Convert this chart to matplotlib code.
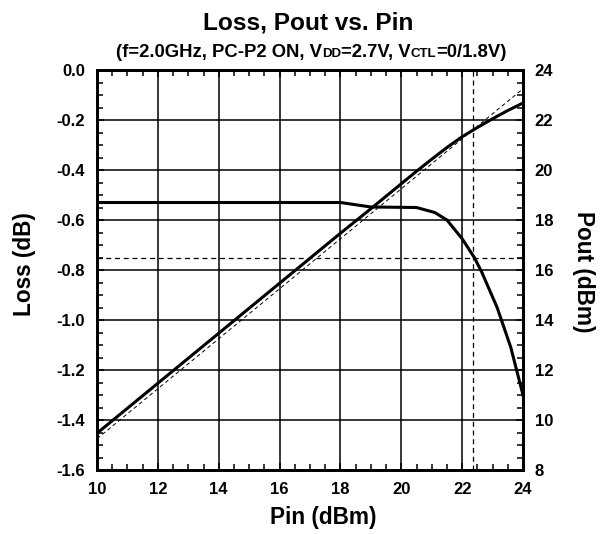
import matplotlib
matplotlib.use("Agg")
import matplotlib.pyplot as plt
from matplotlib.ticker import MultipleLocator, FormatStrFormatter

plt.rcParams['font.family'] = ['Liberation Sans', 'DejaVu Sans']
plt.rcParams['font.weight'] = 'bold'
plt.rcParams['axes.unicode_minus'] = False

# Loss (left axis)
pin_loss = [10, 18.0, 19.0, 20.5, 21.1, 21.5, 22.0, 22.4, 22.65, 23.15, 23.6, 24.0]
loss_db = [-0.53, -0.53, -0.548, -0.55, -0.57, -0.60, -0.675, -0.75, -0.81, -0.95, -1.11, -1.30]

# Pout (right axis)
pin_pout = [10, 12, 14, 16, 18, 19, 20, 20.5, 21, 21.5, 22, 22.5, 23, 23.5, 24]
pout_dbm = [9.47, 11.47, 13.47, 15.47, 17.47, 18.45, 19.45, 19.95, 20.43, 20.9, 21.33, 21.7, 22.05, 22.38, 22.68]

# ideal (thin dashed) Pout line
pin_ideal = [10, 24]
pout_ideal = [9.25, 23.25]

# compression markers
pin_comp = 22.37
loss_comp = -0.75

fig = plt.figure(figsize=(6.06, 5.34), dpi=100)
ax = fig.add_axes([97/606, 1-470/534, 426/606, 400/534])
ax2 = ax.twinx()

ax.plot(pin_loss, loss_db, color='black', lw=2.2, solid_joinstyle='round')
ax.axhline(loss_comp, color='black', lw=0.9, ls=(0, (4, 3)))
ax.axvline(pin_comp, color='black', lw=0.9, ls=(0, (4, 3)))
ax2.plot(pin_pout, pout_dbm, color='black', lw=2.2)
ax2.plot(pin_ideal, pout_ideal, color='black', lw=0.7, ls=(0, (4, 3)))

ax.set_xlim(10, 24)
ax.set_ylim(-1.6, 0.0)
ax2.set_ylim(8, 24)

ax.xaxis.set_major_locator(MultipleLocator(2))
ax.xaxis.set_minor_locator(MultipleLocator(0.5))
ax.yaxis.set_major_locator(MultipleLocator(0.2))
ax.yaxis.set_minor_locator(MultipleLocator(0.05))
ax.yaxis.set_major_formatter(FormatStrFormatter('%.1f'))
ax2.yaxis.set_major_locator(MultipleLocator(2))
ax2.yaxis.set_minor_locator(MultipleLocator(0.5))

ax.grid(True, which='major', color='black', lw=1.1)
ax.tick_params(which='both', direction='in', top=True, right=False, labelsize=12, pad=8.5, width=1.1)
ax.tick_params(which='major', length=5)
ax.tick_params(which='minor', length=4)
ax2.tick_params(which='both', direction='in', labelsize=12, pad=8.5, width=1.1)
ax2.tick_params(which='major', length=5)
ax2.tick_params(which='minor', length=4)

for a in (ax, ax2):
    for s in a.spines.values():
        s.set_linewidth(2.0)

ax.set_xlabel('Pin (dBm)', fontsize=16.3, fontweight='bold', va='baseline')
ax.xaxis.set_label_coords((323-97)/426, (470-524)/400)
ax.set_ylabel('Loss (dB)', fontsize=16.3, fontweight='bold', va='center', ha='center')
ax.yaxis.set_label_coords((25-97)/426, (470-264)/400)
ax2.set_ylabel('Pout (dBm)', fontsize=16.3, fontweight='bold', rotation=-90, va='center', ha='center')
ax2.yaxis.set_label_coords((583-97)/426, (470-272)/400)

fig.text(308/606, 1-29.3/534, 'Loss, Pout vs. Pin', fontsize=17.6, fontweight='bold',
         ha='center', va='baseline')

# subtitle with small-caps style suffixes, assembled piece by piece
pieces = [('(f=2.0GHz, PC-P2 ON, V', 13.3), ('DD', 9.5), ('=2.7V, V', 13.3), ('CTL', 9.5), ('=0/1.8V)', 13.3)]
renderer = fig.canvas.get_renderer()
texts = []
total = 0
for s, fs in pieces:
    t = fig.text(0, 1-56.7/534, s, fontsize=fs, fontweight='bold', ha='left', va='baseline')
    w = t.get_window_extent(renderer).width
    texts.append((t, w))
    total += w
x = 311 - total/2
for t, w in texts:
    t.set_x(x/606)
    x += w

fig.savefig('out.png', dpi=100)
